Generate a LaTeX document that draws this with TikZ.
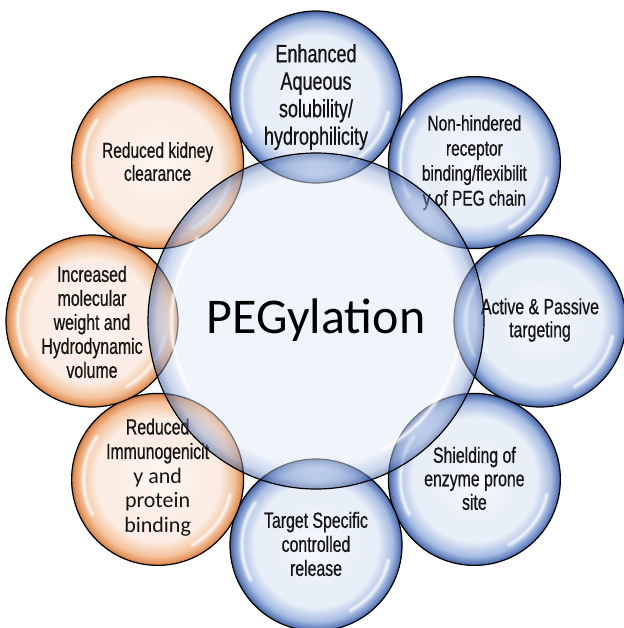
\documentclass[tikz,border=0pt]{standalone}
\usepackage{fontspec}
\setmainfont{Liberation Sans}
\newfontfamily\condf[FakeStretch=0.72,FakeBold=0.6]{Liberation Sans}
\newfontfamily\calib{Carlito}
\usetikzlibrary{calc}
\definecolor{bCtr}{RGB}{248,250,254}
\definecolor{bIn}{RGB}{232,238,249}
\definecolor{bMid}{RGB}{160,183,225}
\definecolor{bEdge}{RGB}{82,114,180}
\definecolor{bDark}{RGB}{46,74,136}
\definecolor{oCtr}{RGB}{254,248,243}
\definecolor{oIn}{RGB}{251,236,225}
\definecolor{oMid}{RGB}{244,190,150}
\definecolor{oEdge}{RGB}{224,138,78}
\definecolor{oDark}{RGB}{185,100,45}
\definecolor{cIn}{RGB}{226,234,248}
\definecolor{cMid}{RGB}{150,174,218}
\definecolor{cEdge}{RGB}{60,92,158}
\pgfdeclareradialshading{bubB}{\pgfpoint{0bp}{0bp}}{color(0bp)=(bCtr); color(12bp)=(bIn); color(18bp)=(bIn); color(22.3bp)=(bMid); color(24.3bp)=(bEdge); color(25bp)=(bDark); color(50bp)=(bDark)}
\pgfdeclareradialshading{bubO}{\pgfpoint{0bp}{0bp}}{color(0bp)=(oCtr); color(12bp)=(oIn); color(18bp)=(oIn); color(22.3bp)=(oMid); color(24.3bp)=(oEdge); color(25bp)=(oDark); color(50bp)=(oDark)}
\pgfdeclareradialshading{bubC}{\pgfpoint{0bp}{0bp}}{color(0bp)=(cIn); color(21.5bp)=(cIn); color(23.7bp)=(cMid); color(24.7bp)=(cEdge); color(25bp)=(cEdge); color(50bp)=(cEdge)}
\tikzset{
  bubble/.style={circle, draw=black, line width=1.2pt, minimum size=172pt, inner sep=0pt, fill opacity=0.92},
  blueb/.style={bubble, shading=bubB},
  orangeb/.style={bubble, shading=bubO},
  centreb/.style={circle, draw=black, line width=1.2pt, minimum size=336pt, inner sep=0pt, shading=bubC, fill opacity=0.5},
  lbl/.style={align=center, inner sep=0pt, text=black!92, font=\condf\fontsize{22}{24}\selectfont},
}
\newcommand\bubshine[2]{%
  \foreach \w/\o in {6/0.22,3.5/0.35,1.5/0.55}{%
    \draw[white, line width=\w pt, opacity=\o, line cap=round] ($(#1)+(145:#2*0.86)$) arc[start angle=145, end angle=208, radius=#2*0.86];
    \draw[white, line width=\w pt, opacity=\o, line cap=round] ($(#1)+(-62:#2*0.86)$) arc[start angle=-62, end angle=-12, radius=#2*0.86];
  }}
\begin{document}
\begin{tikzpicture}[x=1pt,y=1pt]
\useasboundingbox (0,0) rectangle (623,-628);
\fill[white] (0,0) rectangle (623,-628);
\coordinate (C) at (316,-321);
\path (C) ++(90:224) coordinate (c1)
      (C) ++(45:224) coordinate (c2)
      (C) ++(0:224) coordinate (c3)
      (C) ++(-45:224) coordinate (c4)
      (C) ++(-90:224) coordinate (c5)
      (C) ++(-135:224) coordinate (c6)
      (C) ++(180:224) coordinate (c7)
      (C) ++(135:224) coordinate (c8);
% outer bubbles
\node[blueb] (b1) at (c1) {};
\node[blueb] (b2) at (c2) {};
\node[blueb] (b3) at (c3) {};
\node[blueb] (b4) at (c4) {};
\node[blueb] (b5) at (c5) {};
\node[orangeb] (b6) at (c6) {};
\node[orangeb] (b7) at (c7) {};
\node[orangeb] (b8) at (c8) {};
\foreach \i in {1,...,8}{\bubshine{c\i}{86}}
% texts
\node[lbl, font=\condf\fontsize{25}{27.5}\selectfont] (t1) at ($(b1)+(0,0)$) {Enhanced\\Aqueous\\solubility/\\hydrophilicity};
\node[lbl, font=\condf\fontsize{21.5}{25}\selectfont] (t2) at ($(b2)+(0,0)$) {Non-hindered\\receptor\\binding/flexibilit\\y of PEG chain};
\node[lbl, font=\condf\fontsize{22}{23}\selectfont] (t3) at ($(b3)+(0,1)$) {Active \& Passive\\targeting};
\node[lbl, font=\condf\fontsize{22}{23.5}\selectfont] (t4) at ($(b4)+(0,1)$) {Shielding of\\enzyme prone\\site};
\node[lbl] (t5) at ($(b5)+(0,1)$) {Target Specific\\controlled\\release};
\node[lbl, font=\condf\fontsize{22}{24.5}\selectfont] (t6) at ($(b6)+(0,2)$) {Reduced\\Immunogenicit\\{\calib y and}\\{\calib protein}\\{\calib binding}};
\node[lbl] (t7) at ($(b7)+(0,-1)$) {Increased\\molecular\\weight and\\Hydrodynamic\\volume};
\node[lbl, font=\condf\fontsize{21.5}{23}\selectfont] (t8) at ($(b8)+(0,1)$) {Reduced kidney\\clearance};
% central bubble
\node[centreb] (centre) at (C) {};
\bubshine{C}{168}
\node[anchor=base, text=black, font=\calib\fontsize{50}{54}\selectfont] (title) at (316,-333) {PEGylation};
\end{tikzpicture}
\end{document}
